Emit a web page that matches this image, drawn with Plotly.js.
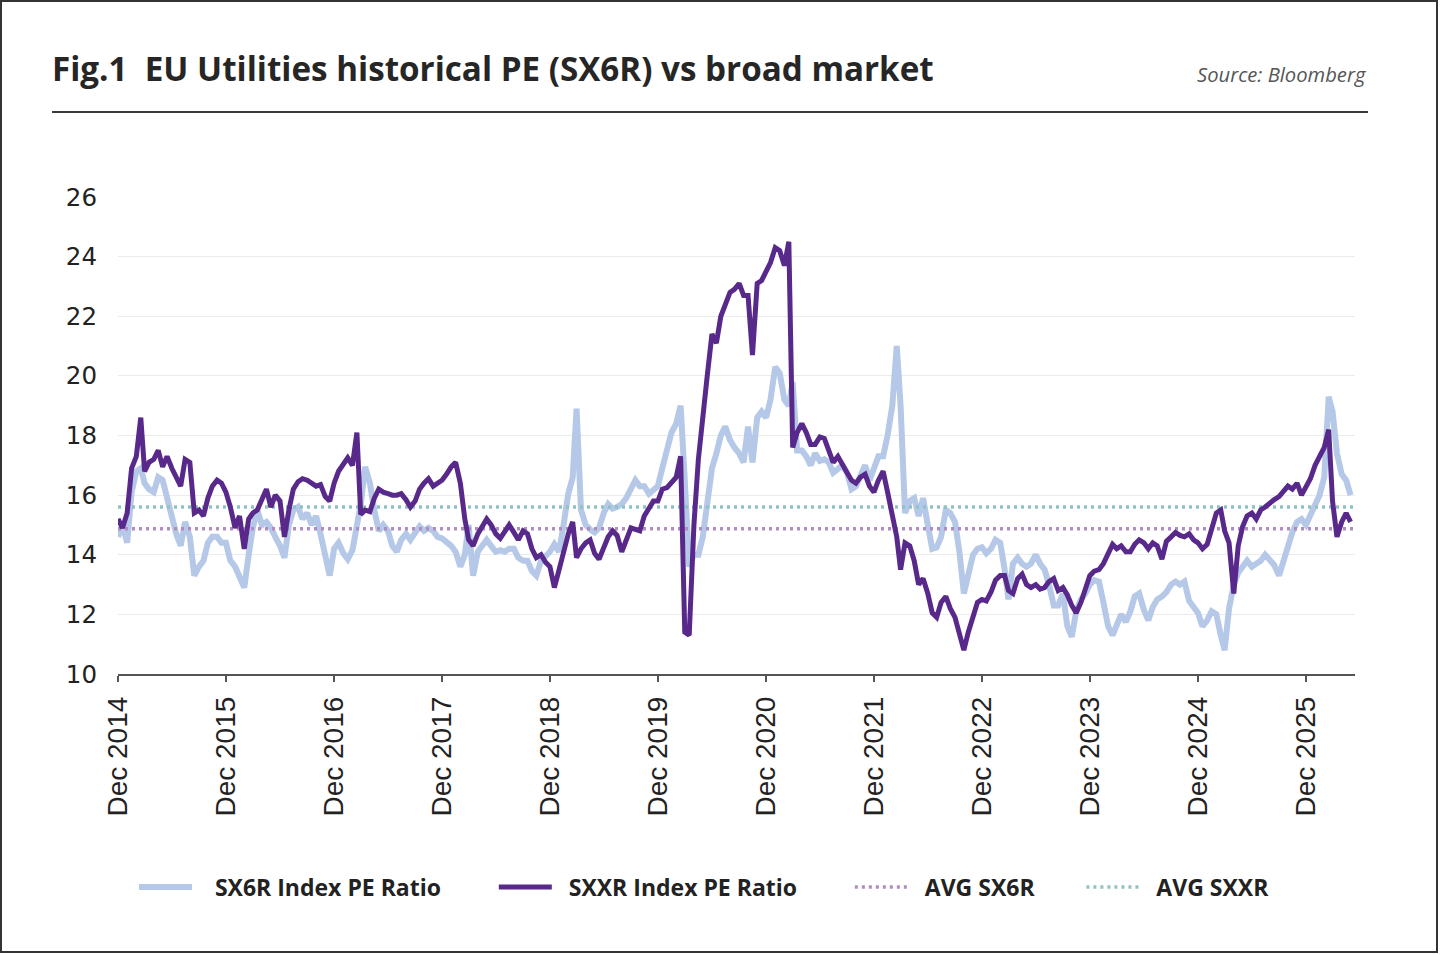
<!DOCTYPE html>
<html><head><meta charset="utf-8">
<script src="https://cdn.plot.ly/plotly-3.0.1.min.js"></script>
<style>
html,body{margin:0;padding:0;background:#fff;}
#chart{width:1440px;height:955px;}
#frame{position:absolute;left:0;top:0;width:1438px;height:953px;border:2px solid #333;box-sizing:border-box;pointer-events:none;}
</style>
</head><body>
<div id="chart"></div><div id="frame"></div>
<script>
const dates = [
'2014-12-01','2014-12-16','2015-01-01','2015-01-16','2015-02-01','2015-02-16','2015-03-01','2015-03-16','2015-04-01','2015-04-16','2015-05-01','2015-05-16','2015-06-01','2015-06-16','2015-07-01','2015-07-16','2015-08-01','2015-08-16','2015-09-01','2015-09-16','2015-10-01','2015-10-16','2015-11-01','2015-11-16',
'2015-12-01','2015-12-16','2016-01-01','2016-01-16','2016-02-01','2016-02-16','2016-03-01','2016-03-16','2016-04-01','2016-04-16','2016-05-01','2016-05-16','2016-06-01','2016-06-16','2016-07-01','2016-07-16','2016-08-01','2016-08-16','2016-09-01','2016-09-16','2016-10-01','2016-10-16','2016-11-01','2016-11-16',
'2016-12-01','2016-12-16','2017-01-01','2017-01-16','2017-02-01','2017-02-16','2017-03-01','2017-03-16','2017-04-01','2017-04-16','2017-05-01','2017-05-16','2017-06-01','2017-06-16','2017-07-01','2017-07-16','2017-08-01','2017-08-16','2017-09-01','2017-09-16','2017-10-01','2017-10-16','2017-11-01','2017-11-16',
'2017-12-01','2017-12-16','2018-01-01','2018-01-16','2018-02-01','2018-02-16','2018-03-01','2018-03-16','2018-04-01','2018-04-16','2018-05-01','2018-05-16','2018-06-01','2018-06-16','2018-07-01','2018-07-16','2018-08-01','2018-08-16','2018-09-01','2018-09-16','2018-10-01','2018-10-16','2018-11-01','2018-11-16',
'2018-12-01','2018-12-16','2019-01-01','2019-01-16','2019-02-01','2019-02-16','2019-03-01','2019-03-16','2019-04-01','2019-04-16','2019-05-01','2019-05-16','2019-06-01','2019-06-16','2019-07-01','2019-07-16','2019-08-01','2019-08-16','2019-09-01','2019-09-16','2019-10-01','2019-10-16','2019-11-01','2019-11-16',
'2019-12-01','2019-12-16','2020-01-01','2020-01-16','2020-02-01','2020-02-16','2020-03-01','2020-03-16','2020-04-01','2020-04-16','2020-05-01','2020-05-16','2020-06-01','2020-06-16','2020-07-01','2020-07-16','2020-08-01','2020-08-16','2020-09-01','2020-09-16','2020-10-01','2020-10-16','2020-11-01','2020-11-16',
'2020-12-01','2020-12-16','2021-01-01','2021-01-16','2021-02-01','2021-02-16','2021-03-01','2021-03-16','2021-04-01','2021-04-16','2021-05-01','2021-05-16','2021-06-01','2021-06-16','2021-07-01','2021-07-16','2021-08-01','2021-08-16','2021-09-01','2021-09-16','2021-10-01','2021-10-16','2021-11-01','2021-11-16',
'2021-12-01','2021-12-16','2022-01-01','2022-01-16','2022-02-01','2022-02-16','2022-03-01','2022-03-16','2022-04-01','2022-04-16','2022-05-01','2022-05-16','2022-06-01','2022-06-16','2022-07-01','2022-07-16','2022-08-01','2022-08-16','2022-09-01','2022-09-16','2022-10-01','2022-10-16','2022-11-01','2022-11-16',
'2022-12-01','2022-12-16','2023-01-01','2023-01-16','2023-02-01','2023-02-16','2023-03-01','2023-03-16','2023-04-01','2023-04-16','2023-05-01','2023-05-16','2023-06-01','2023-06-16','2023-07-01','2023-07-16','2023-08-01','2023-08-16','2023-09-01','2023-09-16','2023-10-01','2023-10-16','2023-11-01','2023-11-16',
'2023-12-01','2023-12-16','2024-01-01','2024-01-16','2024-02-01','2024-02-16','2024-03-01','2024-03-16','2024-04-01','2024-04-16','2024-05-01','2024-05-16','2024-06-01','2024-06-16','2024-07-01','2024-07-16','2024-08-01','2024-08-16','2024-09-01','2024-09-16','2024-10-01','2024-10-16','2024-11-01','2024-11-16',
'2024-12-01','2024-12-16','2025-01-01','2025-01-16','2025-02-01','2025-02-16','2025-03-01','2025-03-16','2025-04-01','2025-04-16','2025-05-01','2025-05-16','2025-06-01','2025-06-16','2025-07-01','2025-07-16','2025-08-01','2025-08-16','2025-09-01','2025-09-16','2025-10-01','2025-10-16','2025-11-01','2025-11-16',
'2025-12-01','2025-12-16','2026-01-01','2026-01-16','2026-02-01','2026-02-16','2026-03-01','2026-03-16','2026-04-01','2026-04-16','2026-05-01'
];

const sx6r = [
14.6,15.0,14.4,16.1,16.8,16.9,16.4,16.2,16.1,16.6,16.5,15.9,15.4,14.7,14.3,15.1,14.6,13.3,13.6,13.8,14.4,14.6,14.6,14.4,
14.4,13.8,13.6,13.3,12.9,14.0,14.9,15.5,15.0,15.1,14.9,14.6,14.3,13.9,15.0,15.5,15.6,15.2,15.4,15.0,15.3,14.7,14.0,13.3,
14.2,14.4,14.05,13.85,14.15,15.0,15.7,16.95,16.4,15.5,14.8,15.0,14.8,14.3,14.1,14.5,14.7,14.5,14.75,14.95,14.8,14.9,14.8,14.6,
14.55,14.45,14.3,14.1,13.6,14.0,15.0,13.3,14.1,14.3,14.5,14.3,14.1,14.15,14.1,14.2,14.2,13.9,13.8,13.8,13.45,13.3,13.8,13.95,
14.1,14.35,14.1,15.0,16.05,16.6,18.9,15.5,15.0,14.85,14.75,14.9,15.4,15.7,15.55,15.6,15.7,15.9,16.2,16.5,16.3,16.3,16.05,16.2,
16.3,16.9,17.6,18.1,18.4,19.0,16.5,13.6,14.0,14.0,14.6,15.6,16.9,17.4,18.0,18.3,17.85,17.6,17.4,17.1,18.3,17.1,18.6,18.8,
18.6,19.2,20.3,20.1,19.2,19.0,19.8,17.5,17.5,17.3,17.0,17.4,17.15,17.2,17.1,16.75,16.9,17.0,16.75,16.2,16.3,16.7,17.0,16.5,
16.9,17.3,17.3,18.0,19.0,21.0,19.0,15.4,15.8,15.9,15.3,15.9,15.0,14.2,14.25,14.6,15.5,15.4,15.1,14.1,12.7,13.4,14.0,14.2,
14.25,14.05,14.2,14.5,14.4,13.5,12.5,13.7,13.9,13.7,13.6,13.7,14.0,13.7,13.5,13.0,12.3,12.3,12.7,11.6,11.25,12.1,12.5,12.7,
13.0,13.15,13.1,12.4,11.6,11.3,11.7,12.0,11.75,12.1,12.6,12.7,12.15,11.8,12.25,12.5,12.6,12.75,13.0,13.1,13.0,13.1,12.45,12.25,
12.05,11.6,11.8,12.1,12.0,11.3,10.8,12.2,13.0,13.4,13.6,13.8,13.6,13.7,13.8,14.0,13.85,13.65,13.3,13.8,14.4,14.75,15.1,15.2,
15.0,15.3,15.6,16.0,16.6,19.3,18.8,17.4,16.7,16.5,16.0
];

const sxxr = [
15.2,14.9,15.4,16.9,17.3,18.6,16.8,17.1,17.2,17.5,16.95,17.3,16.9,16.6,16.3,17.2,17.1,15.4,15.5,15.3,15.9,16.3,16.5,16.4,
16.1,15.6,14.9,15.3,14.2,15.2,15.4,15.5,15.85,16.2,15.6,16.0,15.8,14.6,15.5,16.2,16.45,16.55,16.5,16.4,16.3,16.35,15.95,15.8,
16.4,16.8,17.0,17.25,17.0,18.1,15.35,15.5,15.45,15.9,16.2,16.1,16.05,16.0,16.0,16.05,15.85,15.6,15.8,16.2,16.4,16.55,16.3,16.4,
16.5,16.7,16.95,17.1,16.4,15.2,14.5,14.3,14.7,14.95,15.2,15.0,14.7,14.55,14.8,15.0,14.75,14.5,14.8,14.7,14.2,13.9,14.0,13.75,
13.6,12.9,13.5,14.1,14.7,15.1,13.9,14.2,14.4,14.5,14.05,13.85,14.3,14.6,14.8,14.65,14.1,14.5,14.9,14.85,14.8,15.3,15.6,15.8,
15.8,16.2,16.25,16.45,16.6,17.3,11.4,11.3,15.0,17.2,18.8,20.0,21.4,21.1,22.0,22.4,22.8,22.9,23.1,22.7,22.7,20.7,23.1,23.2,
23.5,23.8,24.3,24.2,23.7,24.5,17.6,18.1,18.4,18.1,17.7,17.7,17.95,17.9,17.5,17.1,17.3,17.0,16.75,16.5,16.4,16.6,16.7,16.3,
16.1,16.5,16.8,16.1,15.4,14.6,13.5,14.4,14.3,13.8,13.0,13.2,12.7,12.05,11.9,12.4,12.6,12.2,11.9,11.3,10.8,11.4,12.0,12.4,
12.5,12.45,12.75,13.15,13.3,13.3,12.8,12.7,13.2,13.35,13.0,12.9,13.0,12.85,12.9,13.1,13.2,12.8,12.9,12.65,12.3,12.05,12.4,12.9,
13.3,13.45,13.5,13.7,14.0,14.35,14.2,14.3,14.1,14.1,14.35,14.5,14.4,14.2,14.4,14.3,13.85,14.45,14.6,14.75,14.65,14.6,14.7,14.5,
14.4,14.2,14.35,14.9,15.4,15.5,14.8,14.4,12.7,14.3,14.95,15.3,15.4,15.2,15.5,15.6,15.75,15.85,15.95,16.1,16.3,16.2,16.4,16.0,
16.3,16.55,17.0,17.3,17.6,18.2,15.8,14.6,15.1,15.4,15.1
];

const avgSx6r = 14.87;
const avgSxxr = 15.6;
const axisEnd = '2026-05-16';

const NB = '\u00a0';

const traces = [
  {x: dates, y: sx6r, name: NB.repeat(3) + 'SX6R Index PE Ratio' + NB.repeat(8), type: 'scatter', mode: 'lines',
   line: {color: '#b5c8e8', width: 6}, legendrank: 1},
  {x: [dates[0], axisEnd], y: [avgSx6r, avgSx6r], name: NB.repeat(2) + 'AVG SX6R' + NB.repeat(7), type: 'scatter', mode: 'lines',
   line: {color: '#b08cc2', width: 3.5, dash: '3px,4px'}, legendrank: 3},
  {x: [dates[0], axisEnd], y: [avgSxxr, avgSxxr], name: NB.repeat(2) + 'AVG SXXR', type: 'scatter', mode: 'lines',
   line: {color: '#8fc3c3', width: 3.5, dash: '3px,4px'}, legendrank: 4},
  {x: dates, y: sxxr, name: NB.repeat(2) + 'SXXR Index PE Ratio' + NB.repeat(8), type: 'scatter', mode: 'lines',
   line: {color: '#58298a', width: 5}, legendrank: 2}
];

const W = 1237, H = 477, L = 118, T = 197;
const px = v => (v - L) / W;
const py = v => (T + H - v) / H;

const layout = {
  width: 1440, height: 955,
  paper_bgcolor: '#ffffff', plot_bgcolor: '#ffffff',
  margin: {l: 118, r: 85, t: 197, b: 281},
  title: {text: 'Fig.1\u00a0 EU Utilities historical PE (SX6R) vs broad market',
    font: {family: 'Open Sans', size: 33.2, weight: 'bold', color: '#262626'},
    xref: 'container', x: 52 / 1440, xanchor: 'left',
    yref: 'container', y: 1 - 69 / 955, yanchor: 'middle'},
  xaxis: {type: 'date', range: [dates[0], axisEnd], tick0: '2014-12-01', dtick: 'M12',
    tickformat: '%b %Y', tickangle: -90, ticks: 'outside', ticklen: 6, tickwidth: 1.5, tickcolor: '#555',
    ticklabelstandoff: 4,
    showline: true, linecolor: '#555', linewidth: 1.5, showgrid: false, zeroline: false,
    tickfont: {family: 'Liberation Sans', size: 28, color: '#222'}},
  yaxis: {range: [10, 26], dtick: 2, tick0: 10, showgrid: true, gridcolor: '#ebebeb', gridwidth: 1,
    zeroline: false, showline: false, ticks: '', ticklabelstandoff: 20,
    tickfont: {family: 'DejaVu Sans', size: 24.5, color: '#222'}},
  showlegend: true,
  legend: {orientation: 'h', x: px(134), y: py(887), xanchor: 'left', yanchor: 'middle',
    itemwidth: 53, font: {family: 'Open Sans', size: 23, weight: 'bold', color: '#222'},
    bgcolor: 'rgba(0,0,0,0)'},
  annotations: [
    {text: 'Source: Bloomberg', xref: 'paper', yref: 'paper', x: px(1369), y: py(74),
     xanchor: 'right', yanchor: 'middle', showarrow: false,
     font: {family: 'Open Sans', size: 20.2, style: 'italic', color: '#555'}}
  ],
  shapes: [
    {type: 'line', xref: 'paper', yref: 'paper', x0: px(52), x1: px(1368), y0: py(112), y1: py(112),
     line: {color: '#3a3a3a', width: 2}}
  ]
};

Plotly.newPlot('chart', traces, layout, {displayModeBar: false, staticPlot: true});
</script>
</body></html>
